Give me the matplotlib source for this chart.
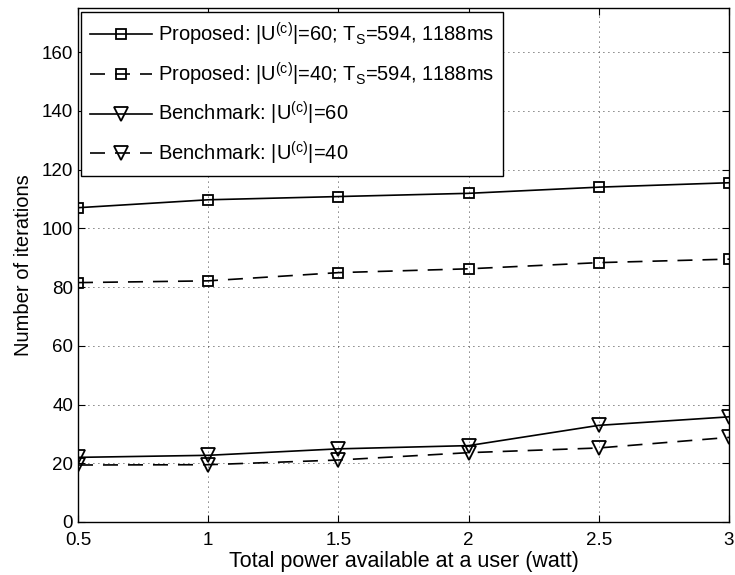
import numpy as np
import matplotlib
matplotlib.use('Agg')
import matplotlib.pyplot as plt

plt.rcParams['font.family'] = ['Liberation Sans', 'DejaVu Sans']
plt.rcParams['mathtext.fontset'] = 'custom'
plt.rcParams['mathtext.rm'] = 'Liberation Sans'
plt.rcParams['mathtext.it'] = 'Liberation Sans:italic'

power = [0.5, 1.0, 1.5, 2.0, 2.5, 3.0]
prop_60 = [107.0, 109.7, 110.8, 111.9, 114.0, 115.5]
prop_40 = [81.5, 82.1, 84.9, 86.2, 88.3, 89.5]
bench_60 = [22.0, 22.7, 24.9, 26.0, 32.9, 35.8]
bench_40 = [19.4, 19.5, 21.1, 23.6, 25.2, 28.8]

labels = [r'Proposed: $|\mathrm{U}^{(\mathrm{c})}|$=60; T$_\mathrm{S}$=594, 1188ms',
          r'Proposed: $|\mathrm{U}^{(\mathrm{c})}|$=40; T$_\mathrm{S}$=594, 1188ms',
          r'Benchmark: $|\mathrm{U}^{(\mathrm{c})}|$=60',
          r'Benchmark: $|\mathrm{U}^{(\mathrm{c})}|$=40']

dash = (0, (9, 6))

fig = plt.figure(figsize=(7.35, 5.75), dpi=100)
ax = fig.add_axes([0.1061, 0.0922, 0.8857, 0.8939])

ax.plot(power, prop_60, '-', color='k', lw=1.2, marker='s', ms=7.5, mfc='none', mew=1.3, label=labels[0])
ax.plot(power, prop_40, linestyle=dash, color='k', lw=1.2, marker='s', ms=7.5, mfc='none', mew=1.3, label=labels[1])
ax.plot(power, bench_60, '-', color='k', lw=1.2, marker='v', ms=10, mfc='none', mew=1.3, label=labels[2])
ax.plot(power, bench_40, linestyle=dash, color='k', lw=1.2, marker='v', ms=10, mfc='none', mew=1.3, label=labels[3])

ax.set_xlim(0.5, 3)
ax.set_ylim(0, 175)
ax.set_xticks(power)
ax.set_xticklabels(['0.5', '1', '1.5', '2', '2.5', '3'])
ax.set_yticks(np.arange(0, 161, 20))
ax.tick_params(direction='in', top=True, right=True, labelsize=13.5, length=5)
ax.tick_params(axis='x', pad=7)
ax.grid(True, color='k', linestyle=(0, (1, 5)), linewidth=0.6)
for s in ax.spines.values():
    s.set_linewidth(1.0)

ax.set_xlabel('Total power available at a user (watt)', fontsize=15.5, labelpad=2)
ax.set_ylabel('Number of iterations', fontsize=14.5, labelpad=6)

leg = ax.legend(loc='upper left', bbox_to_anchor=(0.004, 0.993), borderaxespad=0,
                fontsize=14.5, handlelength=3.1, fancybox=False, framealpha=1,
                edgecolor='k', labelspacing=0.62, handletextpad=0.3, borderpad=0.45)
leg.get_frame().set_linewidth(1.0)

fig.savefig('out.png', dpi=100)
